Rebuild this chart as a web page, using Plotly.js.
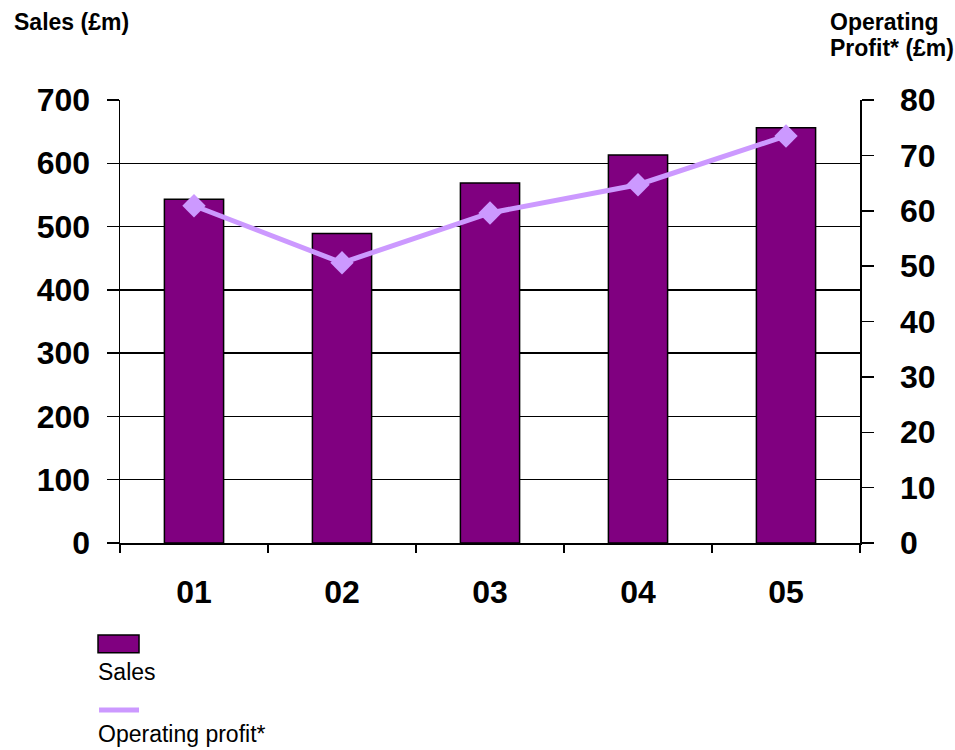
<!DOCTYPE html>
<html>
<head>
<meta charset="utf-8">
<script src="https://cdn.plot.ly/plotly-3.0.1.min.js"></script>
<style>html,body{margin:0;padding:0;background:#fff;}#chart{width:955px;height:750px;}</style>
</head>
<body>
<div id="chart"></div>
<script>
const years = ["01", "02", "03", "04", "05"];
const sales = [543, 489, 569, 613, 656];
const operatingProfit = [60.9, 50.6, 59.6, 64.7, 73.5];
const salesTicks = [0, 100, 200, 300, 400, 500, 600, 700];
const profitTicks = [0, 10, 20, 30, 40, 50, 60, 70, 80];

const FONT = "Liberation Sans, Arial, Helvetica, sans-serif";
const PURPLE = "#800080";
const LILAC = "#cc99ff";

const traces = [
  {
    type: "bar", x: years, y: sales, name: "Sales",
    marker: {color: PURPLE, line: {color: "#000", width: 1.5}},
    width: 0.4, yaxis: "y", showlegend: false
  },
  {
    type: "scatter", mode: "lines+markers", x: years, y: operatingProfit,
    name: "Operating profit*", yaxis: "y2", showlegend: false,
    line: {color: LILAC, width: 5},
    marker: {symbol: "diamond", size: 18, color: LILAC}
  }
];

const tickFont = {family: FONT, size: 32, color: "#000", weight: "bold"};
const titleFont = {family: FONT, size: 23, color: "#000", weight: "bold"};
const legendFont = {family: FONT, size: 23, color: "#000"};

const layout = {
  width: 955, height: 750,
  margin: {l: 120, r: 95, t: 100, b: 207},
  paper_bgcolor: "#fff", plot_bgcolor: "#fff",
  showlegend: false,
  xaxis: {
    type: "category", tickson: "boundaries", ticks: "outside", ticklen: 8,
    tickwidth: 1.5, tickcolor: "#000",
    showline: true, linecolor: "#000", linewidth: 1.5,
    showgrid: false, tickfont: tickFont, ticklabelstandoff: 20,
    range: [-0.5, 4.5]
  },
  yaxis: {
    range: [0, 700], tickvals: salesTicks, ticks: "outside", ticklen: 12,
    tickwidth: 1.5, tickcolor: "#000",
    showline: true, linecolor: "#000", linewidth: 1.5,
    showgrid: true, gridcolor: "#000", gridwidth: 1.5,
    zeroline: false, tickfont: tickFont, ticklabelstandoff: 10
  },
  yaxis2: {
    range: [0, 80], tickvals: profitTicks, overlaying: "y", side: "right",
    ticks: "outside", ticklen: 12, tickwidth: 1.5, tickcolor: "#000",
    showline: true, linecolor: "#000", linewidth: 1.5,
    showgrid: false, zeroline: false, tickfont: tickFont, ticklabelstandoff: 20
  },
  annotations: [
    {text: "Sales (£m)", xref: "paper", yref: "paper", x: -0.1464, y: 1.176,
     xanchor: "left", yanchor: "middle", showarrow: false, font: titleFont},
    {text: "Operating", xref: "paper", yref: "paper", x: 0.9568, y: 1.176,
     xanchor: "left", yanchor: "middle", showarrow: false, font: titleFont},
    {text: "Profit* (£m)", xref: "paper", yref: "paper", x: 0.9568, y: 1.117,
     xanchor: "left", yanchor: "middle", showarrow: false, font: titleFont},
    {text: "Sales", xref: "paper", yref: "paper", x: -0.033, y: -0.291,
     xanchor: "left", yanchor: "middle", showarrow: false, font: legendFont},
    {text: "Operating profit*", xref: "paper", yref: "paper", x: -0.033, y: -0.432,
     xanchor: "left", yanchor: "middle", showarrow: false, font: legendFont}
  ],
  shapes: [
    {type: "rect", xref: "paper", yref: "paper", x0: -0.0297, x1: 0.0257, y0: -0.2077, y1: -0.248,
     fillcolor: PURPLE, line: {color: "#000", width: 1.5}},
    {type: "line", xref: "paper", yref: "paper", x0: -0.0283, x1: 0.0257, y0: -0.377, y1: -0.377,
     line: {color: LILAC, width: 5}}
  ]
};

Plotly.newPlot("chart", traces, layout, {displayModeBar: false, staticPlot: true});
</script>
</body>
</html>
